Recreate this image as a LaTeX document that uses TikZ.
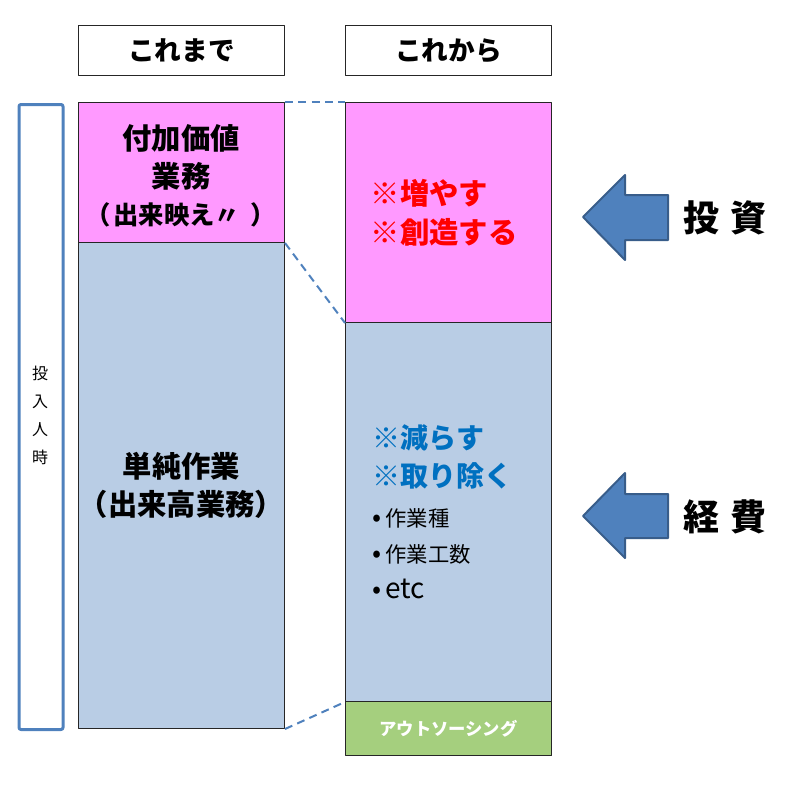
\documentclass[tikz,border=0pt]{standalone}
\usepackage{fontspec}
\usepackage{tikz}
\usetikzlibrary{arrows}
\setmainfont{Noto Sans CJK JP}
\definecolor{ffzzff}{rgb}{1.,0.6,1.}
\definecolor{bbccee}{rgb}{0.7254901960784313,0.803921568627451,0.8980392156862745}
\definecolor{aaddaa}{rgb}{0.6470588235294118,0.8117647058823529,0.49411764705882355}
\definecolor{qquuff}{rgb}{0.30980392156862746,0.5058823529411764,0.7411764705882353}
\definecolor{qqwwaa}{rgb}{0.2196078431372549,0.36470588235294116,0.5411764705882353}
\definecolor{qqttcc}{rgb}{0.,0.4392156862745098,0.7529411764705882}
\definecolor{ffqqqq}{rgb}{1.,0.,0.}
\newcommand{\listdot}{{\fontsize{20pt}{20pt}\selectfont •}\hspace{3pt}}

\begin{document}
\begin{tikzpicture}[line cap=round,line join=round,x=0.75pt,y=-0.75pt,
  box/.style={draw=black!85,line width=0.75pt,inner sep=0pt,anchor=north west,align=center,minimum width=154.5pt},
  bigtext/.style={font=\bfseries\fontsize{22pt}{28pt}\selectfont},
  listtext/.style={anchor=west,inner sep=0pt,font=\fontsize{16pt}{20pt}\selectfont}]
\clip(0,0) rectangle (800,785);
% headers
\node[box,minimum height=37.5pt,font=\bfseries\fontsize{20pt}{24pt}\selectfont] (oldhead) at (78,25) {これまで};
\node[box,minimum height=37.5pt,font=\bfseries\fontsize{20pt}{24pt}\selectfont] (newhead) at (345,25) {これから};
% man-hours bar
\node[draw=qquuff,line width=2.25pt,rounded corners=1.5pt,inner sep=0pt,anchor=north west,minimum width=33pt,minimum height=468.75pt] (hours) at (17.5,103) {};
\node[align=center,font=\fontsize{12pt}{21pt}\selectfont] (hourstext) at (40,415) {投\\入\\人\\時};
% left column
\node[box,fill=ffzzff,minimum height=105pt] (oldadd) at (78,102) {};
\node[bigtext,align=center] (oldaddtext) at (181,176) {付加価値\\業務\\{\fontsize{19pt}{28pt}\selectfont （\hspace{2pt}出来映え〃\hspace{8pt}）}};
\node[box,fill=bbccee,minimum height=364.5pt,bigtext] (oldbase) at (78,242) {単純作業\\（出来高業務）};
% right column
\node[box,fill=ffzzff,minimum height=165pt] (newadd) at (345,102) {};
\node[bigtext,anchor=west,align=left,text=ffqqqq,font=\bfseries\fontsize{22pt}{29pt}\selectfont] (newaddtext) at (366,213) {※増やす\\※創造する};
\node[box,fill=bbccee,minimum height=284.25pt] (newbase) at (345,322) {};
\node[anchor=west,align=left,text=qqttcc,font=\bfseries\fontsize{21pt}{28pt}\selectfont] (cuttext) at (368,457) {※減らす\\※取り除く};
\node[listtext] (item1) at (372,518) {\listdot 作業種};
\node[listtext] (item2) at (372,554) {\listdot 作業工数};
\node[listtext] (item3) at (372,589) {\listdot{\fontsize{21pt}{24pt}\selectfont etc}};
\node[box,fill=aaddaa,minimum height=40.5pt,text=white,font=\bfseries\fontsize{13pt}{16pt}\selectfont] (outsource) at (345,701) {アウトソーシング};
% dashed guides
\draw[dashed,color=qquuff,line width=1.5pt,line cap=butt,dash pattern=on 6pt off 4pt] (oldadd.north east)-- (newadd.north west);
\draw[dashed,color=qquuff,line width=1.5pt,line cap=butt,dash pattern=on 6pt off 4pt] (oldadd.south east)-- (newadd.south west);
\draw[dashed,color=qquuff,line width=1.5pt,line cap=butt,dash pattern=on 6pt off 4pt] (oldbase.south east)-- (newbase.south west);
% block arrows
\draw[fill=qquuff,draw=qqwwaa,line width=1.5pt] (583,217)-- (625,175)-- (625,195)-- (668,195)-- (668,240)-- (625,240)-- (625,260)-- cycle;
\draw[fill=qquuff,draw=qqwwaa,line width=1.5pt] (583,516)-- (625,473)-- (625,494)-- (668,494)-- (668,538)-- (625,538)-- (625,558)-- cycle;
\node[font=\bfseries\fontsize{27pt}{30pt}\selectfont] (invest) at (725,218) {投\hspace{8pt}資};
\node[font=\bfseries\fontsize{27pt}{30pt}\selectfont] (cost) at (725,517) {経\hspace{8pt}費};
\end{tikzpicture}
\end{document}
